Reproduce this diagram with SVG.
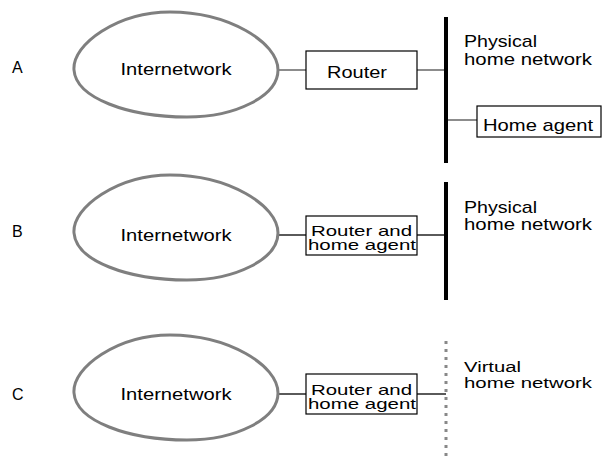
<svg xmlns="http://www.w3.org/2000/svg" width="602" height="456" viewBox="0 0 602 456">
<style>
  text { font-family: "Liberation Sans", Arial, sans-serif; font-size: 17px; fill: #000; }
  .sm { font-size: 16px; }
  .bx { font-size: 14.5px; }
  .vt { font-size: 15.5px; }
  .blob { fill: #fff; stroke: #7f7f7f; stroke-width: 3; }
  .box { fill: #fff; stroke: #000; stroke-width: 1.2; }
  .cg { stroke: #666; stroke-width: 1.5; fill: none; }
  .ck { stroke: #000; stroke-width: 1.3; fill: none; }
  .bus { stroke: #000; stroke-width: 4; fill: none; }
  .vbus { stroke: #888; stroke-width: 3; stroke-dasharray: 3 5; fill: none; }
</style>
<defs>
  <path id="blobShape" d="M74,70 C72,44 118,12 170,12 C228,12 278,42 278,70 C278,96 236,117 187,117 C128,117 76,98 74,70 Z"/>
</defs>

<g id="labels">
  <text x="12" y="73" class="sm">A</text>
  <text x="12" y="237" class="sm">B</text>
  <text x="12" y="400" class="sm">C</text>
</g>

<g id="connectors">
  <line class="cg" x1="278" y1="70" x2="306" y2="70"/>
  <line class="cg" x1="417" y1="70" x2="446" y2="70"/>
  <line class="cg" x1="446" y1="120" x2="477" y2="120"/>
  <line class="ck" x1="278" y1="235" x2="306" y2="235"/>
  <line class="ck" x1="417" y1="235" x2="446" y2="235"/>
  <line class="ck" x1="278" y1="394" x2="306" y2="394"/>
  <line class="ck" x1="417" y1="394" x2="446" y2="394"/>
</g>

<g id="internetA">
  <use href="#blobShape" class="blob"/>
  <text x="176" y="75" text-anchor="middle" textLength="111" lengthAdjust="spacingAndGlyphs">Internetwork</text>
</g>
<g id="routerA">
  <rect class="box" x="306" y="51" width="111" height="38"/>
  <text x="357" y="78" text-anchor="middle" textLength="60" lengthAdjust="spacingAndGlyphs">Router</text>
</g>
<g id="busA">
  <line class="bus" x1="446" y1="17" x2="446" y2="163"/>
  <text x="464" y="47" textLength="73" lengthAdjust="spacingAndGlyphs">Physical</text>
  <text x="464" y="65" textLength="128" lengthAdjust="spacingAndGlyphs">home network</text>
</g>
<g id="homeAgentA">
  <rect class="box" x="477" y="106" width="124" height="31"/>
  <text x="483" y="131" textLength="110" lengthAdjust="spacingAndGlyphs">Home agent</text>
</g>

<g id="internetB">
  <use href="#blobShape" class="blob" transform="translate(0,163)"/>
  <text x="176" y="241" text-anchor="middle" textLength="111" lengthAdjust="spacingAndGlyphs">Internetwork</text>
</g>
<g id="routerB">
  <rect class="box" x="306" y="216" width="111" height="39"/>
  <text x="311" y="236" class="bx" textLength="101" lengthAdjust="spacingAndGlyphs">Router and</text>
  <text x="308" y="250" class="bx" textLength="108" lengthAdjust="spacingAndGlyphs">home agent</text>
</g>
<g id="busB">
  <line class="bus" x1="446" y1="182" x2="446" y2="300"/>
  <text x="464" y="213" textLength="73" lengthAdjust="spacingAndGlyphs">Physical</text>
  <text x="464" y="230" textLength="128" lengthAdjust="spacingAndGlyphs">home network</text>
</g>

<g id="internetC">
  <use href="#blobShape" class="blob" transform="translate(0,323)"/>
  <text x="176" y="400" text-anchor="middle" textLength="111" lengthAdjust="spacingAndGlyphs">Internetwork</text>
</g>
<g id="routerC">
  <rect class="box" x="306" y="374" width="111" height="40"/>
  <text x="311" y="395" class="bx" textLength="101" lengthAdjust="spacingAndGlyphs">Router and</text>
  <text x="308" y="409" class="bx" textLength="108" lengthAdjust="spacingAndGlyphs">home agent</text>
</g>
<g id="virtualC">
  <line class="vbus" x1="446" y1="341" x2="446" y2="456"/>
  <text x="464" y="372" class="vt" textLength="57" lengthAdjust="spacingAndGlyphs">Virtual</text>
  <text x="464" y="388" class="vt" textLength="128" lengthAdjust="spacingAndGlyphs">home network</text>
</g>
</svg>
